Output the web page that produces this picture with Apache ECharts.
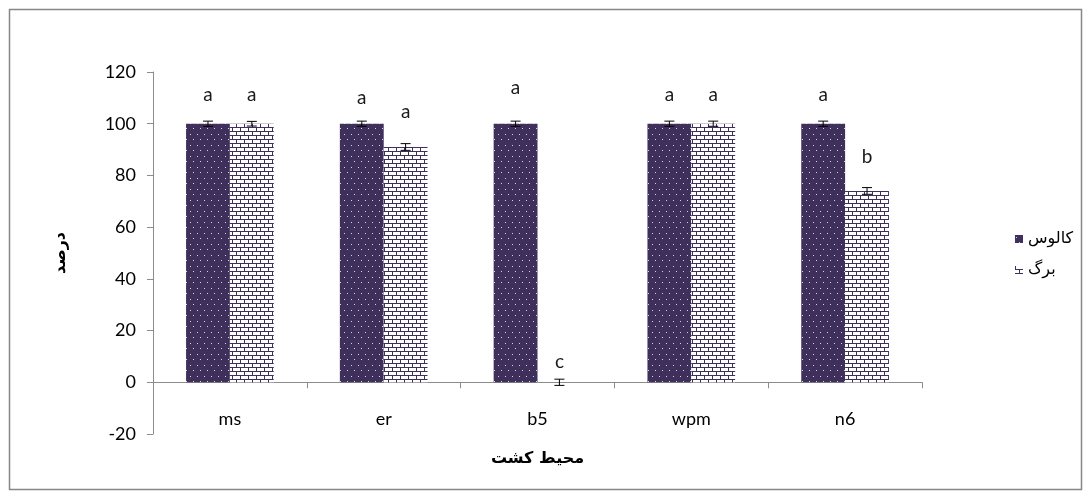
<!DOCTYPE html>
<html>
<head>
<meta charset="utf-8">
<script src="https://cdn.jsdelivr.net/npm/echarts@6/dist/echarts.min.js"></script>
<style>
  html, body { margin: 0; padding: 0; background: #fff; }
  #chart { width: 1091px; height: 499px; }
</style>
</head>
<body>
<div id="chart"></div>
<script>
// Culture media and series data
const media = ['ms', 'er', 'b5', 'wpm', 'n6'];
const seriesNames = ['کالوس', 'برگ'];
const callusValues = [100, 100, 100, 100, 100];
const leafValues = [100, 91, 0, 100, 74];
const callusErrors = [1, 1, 1, 1, 1];
const leafErrors = [0.9, 1.3, 1.2, 1, 1.3];
const callusLetters = ['a', 'a', 'a', 'a', 'a'];
const leafLetters = ['a', 'a', 'c', 'a', 'b'];
const yTicks = { min: -20, max: 120, step: 20 };

// Extra lift (px) of each significance letter above its bar
const callusLift = [19, 16, 26, 19, 19];
const leafLift = [19, 26, 11, 19, 25];

const PURPLE = '#3f2f5b';
const CAT_GAP = 0.43;
const TEXT_FONT = 'Lato, "Liberation Sans", sans-serif';
const FA_FONT = '"DejaVu Sans", sans-serif';

// Dotted fill: dark purple with small light dots
function dotPattern() {
  const c = document.createElement('canvas');
  c.width = 7; c.height = 11;
  const g = c.getContext('2d');
  g.fillStyle = PURPLE;
  g.fillRect(0, 0, 7, 11);
  g.fillStyle = '#d8d3e0';
  g.fillRect(1, 2, 1, 1);
  g.fillRect(4, 7, 1, 1);
  return c;
}

// Brick fill: white with dark purple mortar lines
function brickPattern() {
  const c = document.createElement('canvas');
  c.width = 8; c.height = 8;
  const g = c.getContext('2d');
  g.fillStyle = '#ffffff';
  g.fillRect(0, 0, 8, 8);
  g.fillStyle = PURPLE;
  g.fillRect(0, 3, 8, 1);
  g.fillRect(0, 7, 8, 1);
  g.fillRect(0, 0, 1, 3);
  g.fillRect(4, 4, 1, 3);
  return c;
}

const dotFill = { image: dotPattern(), repeat: 'repeat' };
const brickFill = { image: brickPattern(), repeat: 'repeat' };

function barData(values, letters, lifts) {
  return values.map((v, i) => ({
    value: v,
    label: { formatter: letters[i], distance: lifts[i] }
  }));
}

// Error bars drawn next to the matching bar in each group
function errorSeries(values, errors, side) {
  return {
    type: 'custom',
    silent: true,
    z: 5,
    data: values.map((v, i) => [i, v, errors[i]]),
    renderItem(params, api) {
      const i = api.value(0), v = api.value(1), e = api.value(2);
      const band = api.size([1, 0])[0];
      const bw = band * (1 - CAT_GAP) / 2;
      const center = api.coord([i, v]);
      const x = center[0] + side * bw / 2;
      const yHi = api.coord([i, v + e])[1];
      const yLo = api.coord([i, v - e])[1];
      const cap = 5;
      const style = { stroke: '#000', lineWidth: 1 };
      return {
        type: 'group',
        children: [
          { type: 'line', shape: { x1: x, y1: yHi, x2: x, y2: yLo }, style },
          { type: 'line', shape: { x1: x - cap, y1: yHi, x2: x + cap, y2: yHi }, style },
          { type: 'line', shape: { x1: x - cap, y1: yLo, x2: x + cap, y2: yLo }, style }
        ]
      };
    }
  };
}

const labelStyle = {
  show: true,
  position: 'top',
  fontFamily: TEXT_FONT,
  fontSize: 19,
  color: '#1a1a1a'
};

const chart = echarts.init(document.getElementById('chart'), null, { renderer: 'canvas' });

chart.setOption({
  animation: false,
  backgroundColor: '#ffffff',
  graphic: [{
    type: 'rect',
    shape: { x: 9.5, y: 9.5, width: 1072, height: 480 },
    style: { fill: 'none', stroke: '#868686', lineWidth: 1.5 },
    silent: true
  }],
  grid: { left: 153, right: 169, top: 72, bottom: 65, outerBoundsMode: 'none' },
  legend: {
    orient: 'vertical',
    left: 1010,
    top: 226,
    itemWidth: 8,
    itemHeight: 8,
    itemGap: 15,
    icon: 'rect',
    data: seriesNames,
    textStyle: {
      fontFamily: FA_FONT,
      fontSize: 16,
      color: '#000'
    }
  },
  xAxis: {
    type: 'category',
    data: media,
    name: 'محیط کشت',
    nameLocation: 'middle',
    nameGap: 17,
    nameTextStyle: {
      fontFamily: FA_FONT,
      fontWeight: 'bold',
      fontSize: 16,
      color: '#000'
    },
    axisLine: { onZero: true, lineStyle: { color: '#8c8c8c', width: 1 } },
    axisTick: { show: true, alignWithLabel: false, length: 6, lineStyle: { color: '#8c8c8c' } },
    axisLabel: {
      margin: -24,
      fontFamily: TEXT_FONT,
      fontSize: 18,
      color: '#000'
    },
    splitLine: { show: false }
  },
  yAxis: {
    type: 'value',
    min: yTicks.min,
    max: yTicks.max,
    interval: yTicks.step,
    name: 'درصد',
    nameLocation: 'middle',
    nameGap: 84,
    nameTextStyle: {
      fontFamily: FA_FONT,
      fontWeight: 'bold',
      fontSize: 16,
      color: '#000'
    },
    axisLine: { show: true, lineStyle: { color: '#8c8c8c', width: 1 } },
    axisTick: { show: true, length: 6, lineStyle: { color: '#8c8c8c' } },
    axisLabel: {
      margin: 17,
      fontFamily: TEXT_FONT,
      fontSize: 18,
      color: '#000'
    },
    splitLine: { show: false }
  },
  series: [
    {
      name: seriesNames[0],
      type: 'bar',
      barGap: '0%',
      barCategoryGap: (CAT_GAP * 100) + '%',
      itemStyle: { color: dotFill },
      label: labelStyle,
      data: barData(callusValues, callusLetters, callusLift)
    },
    {
      name: seriesNames[1],
      type: 'bar',
      barGap: '0%',
      barCategoryGap: (CAT_GAP * 100) + '%',
      itemStyle: { color: brickFill },
      label: labelStyle,
      data: barData(leafValues, leafLetters, leafLift)
    },
    errorSeries(callusValues, callusErrors, -1),
    errorSeries(leafValues, leafErrors, 1)
  ]
});
</script>
</body>
</html>
